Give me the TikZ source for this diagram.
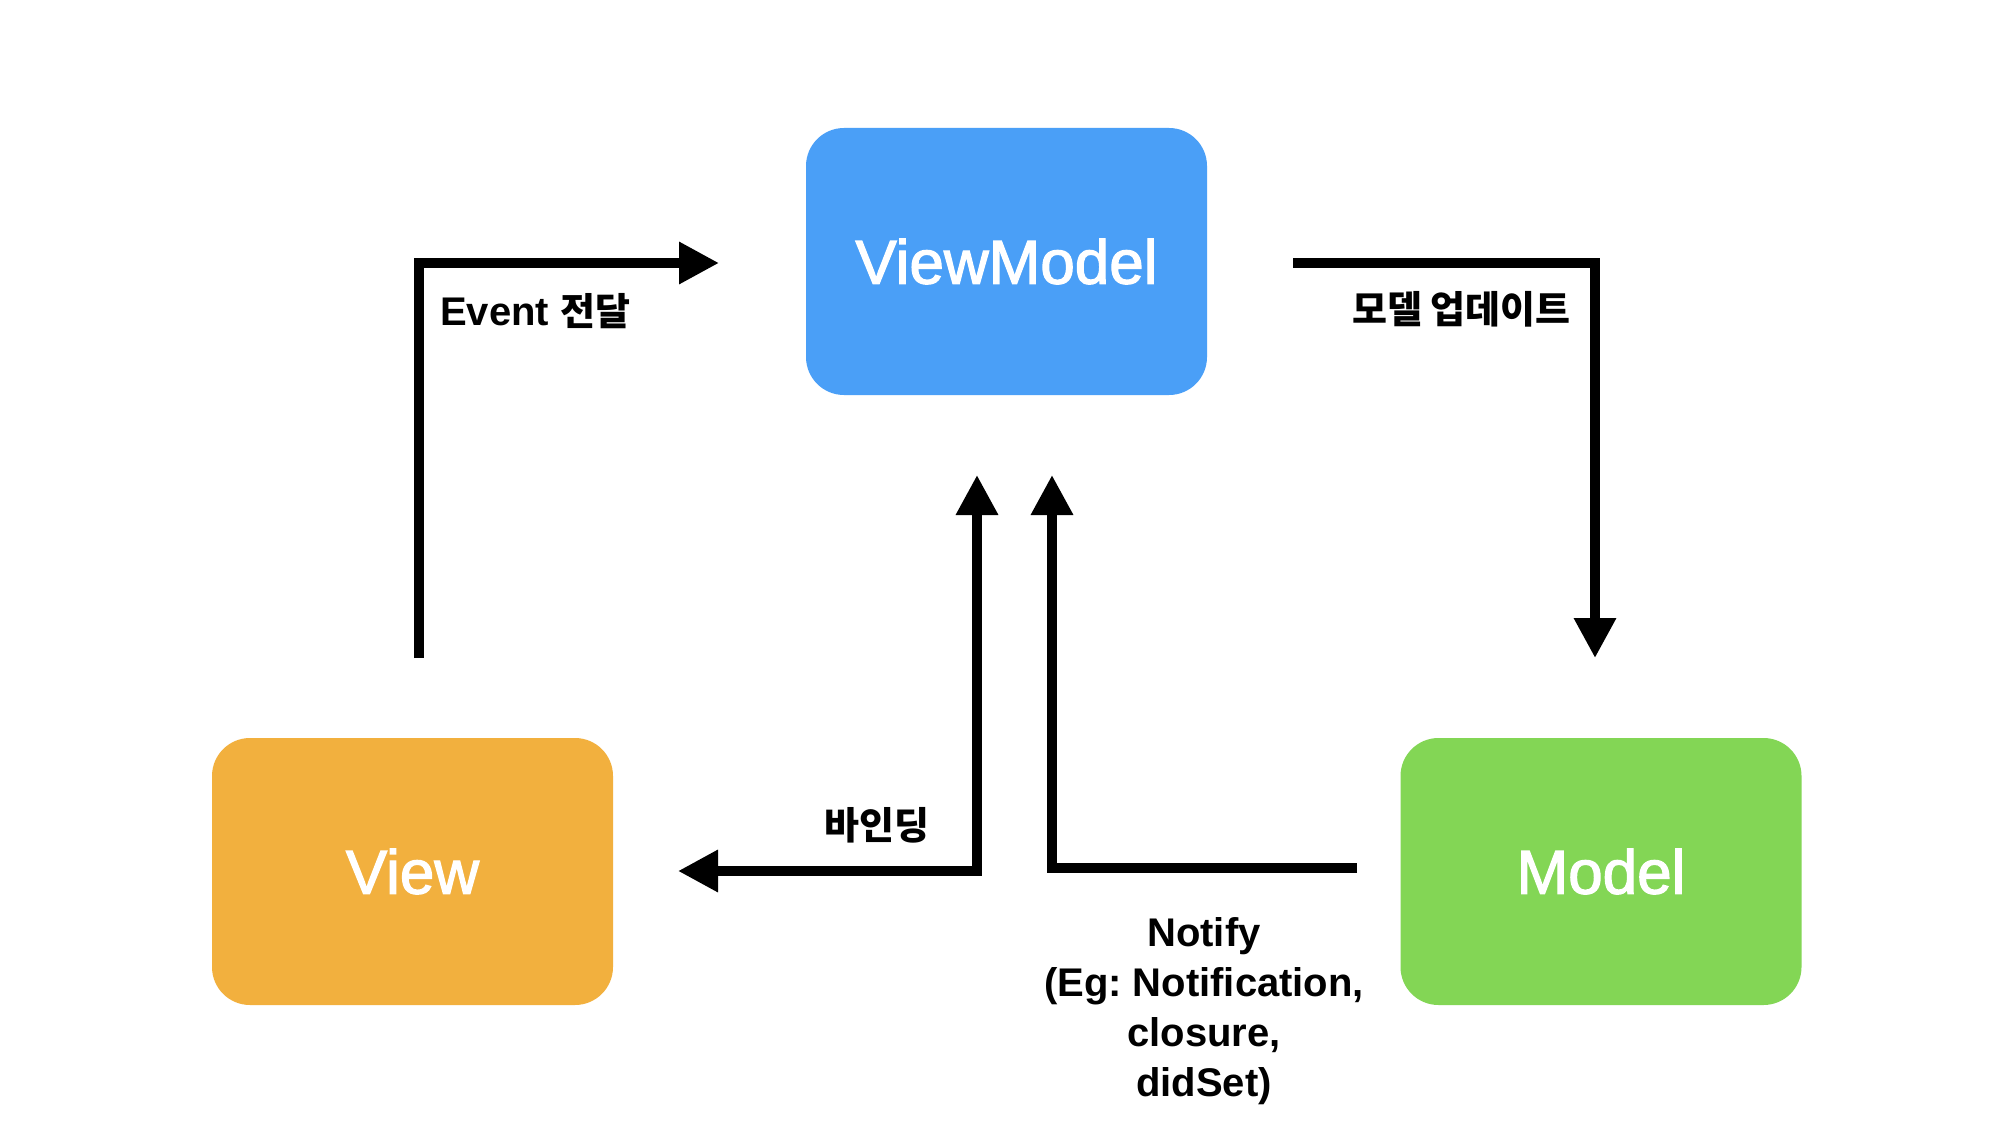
\documentclass[tikz,border=0pt]{standalone}
\usepackage{fontspec}
\setmainfont{Liberation Sans}
\newfontfamily\kr{Noto Sans CJK KR}
\newfontfamily\boxfont[FakeBold=2]{Liberation Sans}
\usetikzlibrary{arrows.meta}
\definecolor{vmblue}{HTML}{4A9FF7}
\definecolor{vorange}{HTML}{F2B03E}
\definecolor{mgreen}{HTML}{83D655}
\frenchspacing
\begin{document}
\begin{tikzpicture}[x=1pt,y=-1pt,
  box/.style={rounded corners=38pt, minimum width=401pt, minimum height=267pt, inner sep=0pt, text=white, font=\boxfont\fontsize{62}{70}\selectfont},
  conn/.style={line width=9.5pt, -{Triangle[length=40pt,width=40pt]}},
  biconn/.style={line width=9.5pt, {Triangle[length=40pt,width=40pt]}-{Triangle[length=40pt,width=40pt]}},
  lab/.style={font=\fontsize{40}{50}\selectfont\bfseries, inner sep=0pt, text=black},
  krlab/.style={font=\kr\fontsize{38}{48}\selectfont\bfseries, inner sep=0pt, text=black}]
\useasboundingbox (0,0) rectangle (2012,1134);
\fill[white] (0,0) rectangle (2012,1134);
\node[box, fill=vmblue] (vm) at (1006.5,261.5) {ViewModel};
\node[box, fill=vorange] (v) at (412.5,871.5) {View};
\node[box, fill=mgreen] (m) at (1601,871.5) {Model};
% Event arrow
\coordinate (e0) at (419,658);
\coordinate (e1) at (419,263);
\coordinate (e2) at (719,263);
\draw[conn] (e0) -- (e1) -- (e2);
\node[lab, anchor=west] (elab) at (440,311) {Event {\kr\fontsize{38}{48}\selectfont 전달}};
% model update
\coordinate (u0) at (1293,263);
\coordinate (u1) at (1595,263);
\coordinate (u2) at (1595,658);
\draw[conn] (u0) -- (u1) -- (u2);
\node[krlab, anchor=east] (ulab) at (1571,309) {모델 업데이트};
% binding
\coordinate (b0) at (977,475);
\coordinate (b1) at (977,871);
\coordinate (b2) at (678,871);
\draw[biconn] (b0) -- (b1) -- (b2);
\node[krlab, anchor=east] (blab) at (930,825) {바인딩};
% notify
\coordinate (n0) at (1357,868);
\coordinate (n1) at (1052,868);
\coordinate (n2) at (1052,475);
\draw[conn] (n0) -- (n1) -- (n2);
\node[lab, align=center, anchor=north] (nlab) at (1204,917) {Notify\\(Eg: Notification,\\closure,\\didSet)};
\end{tikzpicture}
\end{document}
